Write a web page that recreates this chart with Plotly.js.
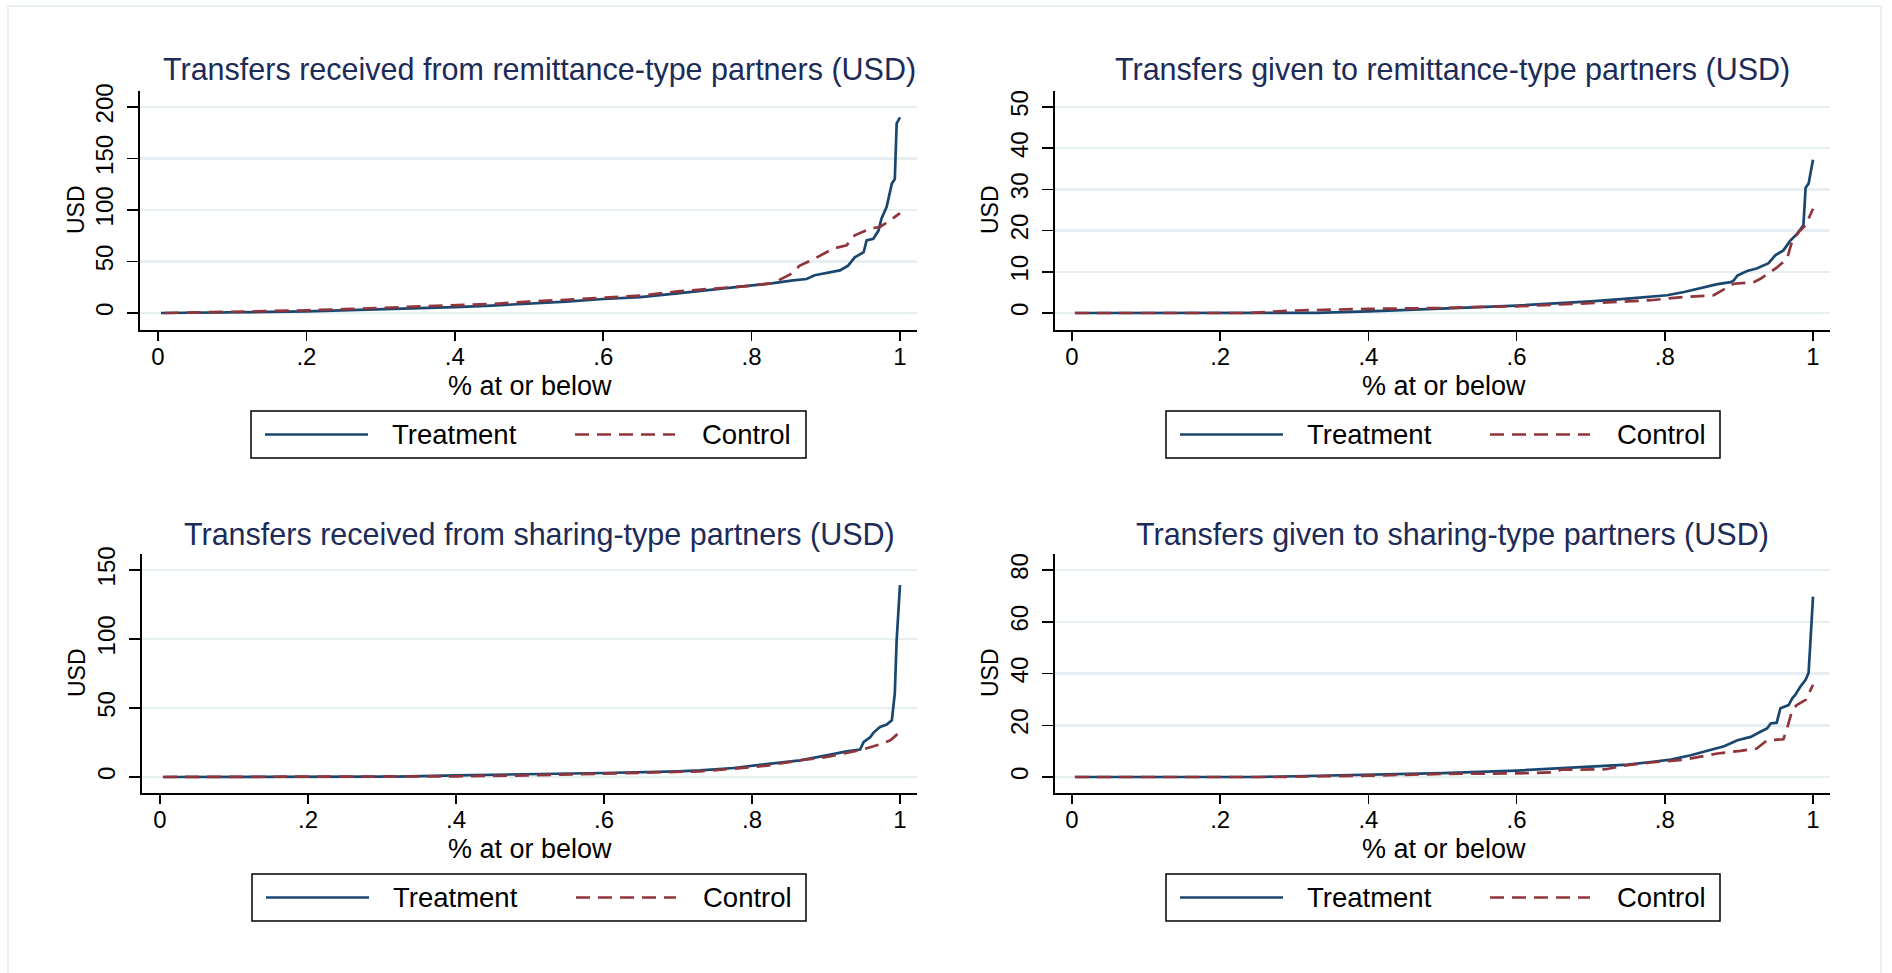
<!DOCTYPE html>
<html><head><meta charset="utf-8">
<script src="https://cdn.plot.ly/plotly-3.0.1.min.js"></script>
<style>html,body{margin:0;padding:0;background:#fff}#chart{width:1892px;height:973px}</style>
</head><body><div id="chart"></div><script>
// ---------- data ----------
var panelTitles = [
  "Transfers received from remittance-type partners (USD)",
  "Transfers given to remittance-type partners (USD)",
  "Transfers received from sharing-type partners (USD)",
  "Transfers given to sharing-type partners (USD)"
];
var seriesNames = ["Treatment", "Control"];
var xTitle = "% at or below";
var yTitle = "USD";
var xTickVals = [0, 0.2, 0.4, 0.6, 0.8, 1];
var xTickText = ["0", ".2", ".4", ".6", ".8", "1"];
var yTickVals1 = [0, 50, 100, 150, 200];
var yTickVals2 = [0, 10, 20, 30, 40, 50];
var yTickVals3 = [0, 50, 100, 150];
var yTickVals4 = [0, 20, 40, 60, 80];

// Panel 1: received from remittance-type partners
var recvRemitTreatP   = [0.004,0.05,0.1,0.15,0.2,0.25,0.3,0.35,0.4,0.45,0.5,0.55,0.6,0.65,0.7,0.75,0.8,0.829,0.856,0.874,0.885,0.901,0.919,0.930,0.939,0.951,0.955,0.964,0.971,0.975,0.982,0.989,0.993,0.9955,1.0];
var recvRemitTreatUSD = [0,0.2,0.5,1,1.6,2.5,3.5,4.6,5.8,7.2,9,11,13.6,15.5,19,22.7,26.2,29,31.7,33,36.6,39,41.4,46,54,59,70.5,72,80,91.6,103,125.6,130,184,190];
var recvRemitCtrlP    = [0.009,0.05,0.1,0.15,0.2,0.25,0.3,0.35,0.4,0.45,0.5,0.55,0.6,0.65,0.7,0.75,0.8,0.829,0.852,0.865,0.885,0.910,0.928,0.939,0.960,0.973,0.987,1.0];
var recvRemitCtrlUSD  = [0,0.5,1,1.8,2.6,3.7,4.8,6,7,8.8,11,13,14.5,16.8,21,23.5,26.5,29,37.5,46,52.8,62.5,65.7,75.4,82,83.5,90,97];

// Panel 2: given to remittance-type partners
var giveRemitTreatP   = [0.004,0.1,0.2,0.3,0.33,0.4,0.45,0.5,0.55,0.6,0.65,0.7,0.75,0.781,0.803,0.826,0.848,0.871,0.889,0.893,0.898,0.911,0.924,0.940,0.949,0.960,0.969,0.978,0.987,0.990,0.994,1.0];
var giveRemitTreatUSD = [0,0,0,0,0.05,0.4,0.7,1,1.4,1.8,2.3,2.8,3.5,3.9,4.3,5.1,6.1,7.0,7.5,7.9,9.1,10.2,10.8,12.1,14,15.2,17.5,19.1,21.3,30.4,31.4,37.2];
var giveRemitCtrlP    = [0.004,0.1,0.2,0.24,0.3,0.35,0.4,0.5,0.55,0.6,0.7,0.75,0.781,0.826,0.866,0.893,0.920,0.929,0.951,0.965,0.972,0.981,0.990,1.0];
var giveRemitCtrlUSD  = [0,0,0,0,0.6,0.8,1,1.2,1.5,1.6,2.3,2.8,3.1,3.9,4.3,7.1,7.5,8.3,11,13.2,17.6,19.7,21.3,25.3];

// Panel 3: received from sharing-type partners
var recvShareTreatP   = [0.004,0.1,0.2,0.3,0.32,0.4,0.5,0.6,0.7,0.73,0.775,0.82,0.865,0.901,0.928,0.946,0.951,0.960,0.964,0.973,0.982,0.989,0.993,0.9955,1.0];
var recvShareTreatUSD = [0,0,0,0,0.3,1.2,1.9,2.9,4.1,4.8,6.5,9.2,12.1,15.7,18.6,19.9,25.4,29,32,36.3,38,41,60.5,99,139];
var recvShareCtrlP    = [0.004,0.1,0.2,0.3,0.36,0.4,0.5,0.6,0.7,0.73,0.775,0.82,0.865,0.901,0.946,0.973,0.987,1.0];
var recvShareCtrlUSD  = [0,0,0,0,0,0.5,1.2,2.4,3.9,4.1,6,8.2,12.1,14.5,19.4,23.7,26.6,32.7];

// Panel 4: given to sharing-type partners
var giveShareTreatP   = [0.004,0.1,0.2,0.25,0.3,0.4,0.5,0.6,0.7,0.75,0.781,0.808,0.835,0.862,0.880,0.898,0.916,0.929,0.938,0.943,0.951,0.956,0.967,0.972,0.976,0.983,0.990,0.994,0.996,1.0];
var giveShareTreatUSD = [0,0,0,0,0.3,0.8,1.5,2.5,3.9,4.8,5.8,6.7,8.4,10.4,11.9,14.2,15.5,17.5,18.8,20.7,21,26.6,27.8,30.4,31.7,35,37.6,40.2,49.2,69.7];
var giveShareCtrlP    = [0.004,0.1,0.2,0.27,0.4,0.45,0.5,0.6,0.65,0.66,0.7,0.72,0.75,0.781,0.826,0.871,0.902,0.924,0.938,0.960,0.965,0.972,0.978,0.990,1.0];
var giveShareCtrlUSD  = [0,0,0,0,0.5,0.8,1.2,1.4,1.8,2.8,2.8,3,4.6,5.6,6.7,9.1,10.1,11,14.2,14.6,18.8,26,27.8,29.8,35.6];

// ---------- styling / layout ----------
var W = 1892, H = 973;
var FONT = "Liberation Sans, Arial, Helvetica, sans-serif";
var NAVY = "#1a476f", MAROON = "#90353b", TITLE_COL = "#1c2b57", GRID = "#e7eef1";
var DASH = "14px,8px";
function px(x) { return x / W; }
function py(y) { return 1 - y / H; }

var panels = [
  {tx: [recvRemitTreatP, recvRemitTreatUSD], cx: [recvRemitCtrlP, recvRemitCtrlUSD], yt: yTickVals1,
   xd: [140, 917], yd: [330, 90.7], xr: [-0.0243, 1.0229], yr: [-16.5, 215.8],
   titleX: 539, titleY: 69.5, xtX: 530, xtY: 386, ytX: 76, ytY: 210,
   leg: [251, 806, 411, 458]},
  {tx: [giveRemitTreatP, giveRemitTreatUSD], cx: [giveRemitCtrlP, giveRemitCtrlUSD], yt: yTickVals2,
   xd: [1055, 1830], yd: [330, 90.7], xr: [-0.0229, 1.0229], yr: [-4.13, 53.96],
   titleX: 1452, titleY: 69.5, xtX: 1444, xtY: 386, ytX: 990, ytY: 210,
   leg: [1166, 1720, 411, 458]},
  {tx: [recvShareTreatP, recvShareTreatUSD], cx: [recvShareCtrlP, recvShareCtrlUSD], yt: yTickVals3,
   xd: [142, 917], yd: [793, 554], xr: [-0.0243, 1.023], yr: [-11.6, 161.6],
   titleX: 539, titleY: 534.5, xtX: 530, xtY: 849, ytX: 77, ytY: 673,
   leg: [252, 806, 874, 921]},
  {tx: [giveShareTreatP, giveShareTreatUSD], cx: [giveShareCtrlP, giveShareCtrlUSD], yt: yTickVals4,
   xd: [1055, 1830], yd: [793, 554], xr: [-0.0229, 1.0229], yr: [-6.18, 86.2],
   titleX: 1452, titleY: 534.5, xtX: 1444, xtY: 849, ytX: 990, ytY: 673,
   leg: [1166, 1720, 874, 921]}
];

var data = [];
var layout = {
  width: W, height: H, autosize: false,
  margin: {l: 0, r: 0, t: 0, b: 0},
  paper_bgcolor: "#ffffff", plot_bgcolor: "#ffffff",
  showlegend: false,
  font: {family: FONT, color: "#000"},
  shapes: [], annotations: []
};

// light outer frame of the figure
layout.shapes.push({type: "rect", xref: "paper", yref: "paper",
  x0: px(8), x1: px(1881), y0: -0.05, y1: py(6),
  line: {color: "#e2ebee", width: 1.5}, fillcolor: "rgba(0,0,0,0)", layer: "below"});

panels.forEach(function (p, i) {
  var n = i === 0 ? "" : String(i + 1);
  var xa = "x" + n, ya = "y" + n;
  data.push({type: "scatter", mode: "lines", name: seriesNames[0], x: p.tx[0], y: p.tx[1],
    xaxis: xa, yaxis: ya, line: {color: NAVY, width: 2.7}, hoverinfo: "skip"});
  data.push({type: "scatter", mode: "lines", name: seriesNames[1], x: p.cx[0], y: p.cx[1],
    xaxis: xa, yaxis: ya, line: {color: MAROON, width: 2.7, dash: DASH}, hoverinfo: "skip"});

  layout["xaxis" + n] = {
    domain: [px(p.xd[0]), px(p.xd[1])], range: p.xr, anchor: ya,
    showgrid: false, zeroline: false, showline: true, linecolor: "#000", linewidth: 2,
    ticks: "outside", ticklen: 9, tickwidth: 1.5, tickcolor: "#000",
    tickvals: xTickVals, ticktext: xTickText,
    tickfont: {family: FONT, size: 24, color: "#000"}, ticklabelstandoff: -5
  };
  layout["yaxis" + n] = {
    domain: [py(p.yd[0]), py(p.yd[1])], range: p.yr, anchor: xa,
    showgrid: true, gridcolor: GRID, gridwidth: 2.5, zeroline: false,
    showline: true, linecolor: "#000", linewidth: 1.8,
    ticks: "outside", ticklen: 11, tickwidth: 1.5, tickcolor: "#000",
    tickvals: p.yt, tickangle: -90, ticklabelstandoff: 5,
    tickfont: {family: FONT, size: 24, color: "#000"}
  };

  // panel title
  layout.annotations.push({xref: "paper", yref: "paper", x: px(p.titleX), y: py(p.titleY),
    xanchor: "center", yanchor: "middle", showarrow: false, text: panelTitles[i],
    font: {family: FONT, size: 30.5, color: TITLE_COL}});
  // x-axis title
  layout.annotations.push({xref: "paper", yref: "paper", x: px(p.xtX), y: py(p.xtY),
    xanchor: "center", yanchor: "middle", showarrow: false, text: xTitle,
    font: {family: FONT, size: 27, color: "#000"}});
  // y-axis title
  layout.annotations.push({xref: "paper", yref: "paper", x: px(p.ytX), y: py(p.ytY),
    xanchor: "center", yanchor: "middle", showarrow: false, text: yTitle, textangle: -90,
    font: {family: FONT, size: 23, color: "#000"}});

  // legend box
  var L = p.leg, cy = (L[2] + L[3]) / 2;
  layout.shapes.push({type: "rect", xref: "paper", yref: "paper",
    x0: px(L[0]), x1: px(L[1]), y0: py(L[3]), y1: py(L[2]),
    line: {color: "#000", width: 1.5}, fillcolor: "#fff"});
  layout.shapes.push({type: "line", xref: "paper", yref: "paper",
    x0: px(L[0] + 14), x1: px(L[0] + 117), y0: py(cy), y1: py(cy),
    line: {color: NAVY, width: 2.7}});
  layout.shapes.push({type: "line", xref: "paper", yref: "paper",
    x0: px(L[0] + 324), x1: px(L[0] + 424), y0: py(cy), y1: py(cy),
    line: {color: MAROON, width: 2.7, dash: DASH}});
  layout.annotations.push({xref: "paper", yref: "paper", x: px(L[0] + 139), y: py(cy),
    xanchor: "left", yanchor: "middle", showarrow: false, text: seriesNames[0],
    font: {family: FONT, size: 27.5, color: "#000"}});
  layout.annotations.push({xref: "paper", yref: "paper", x: px(L[0] + 449), y: py(cy),
    xanchor: "left", yanchor: "middle", showarrow: false, text: seriesNames[1],
    font: {family: FONT, size: 27.5, color: "#000"}});
});

Plotly.newPlot("chart", data, layout, {displayModeBar: false, staticPlot: true});
</script></body></html>
